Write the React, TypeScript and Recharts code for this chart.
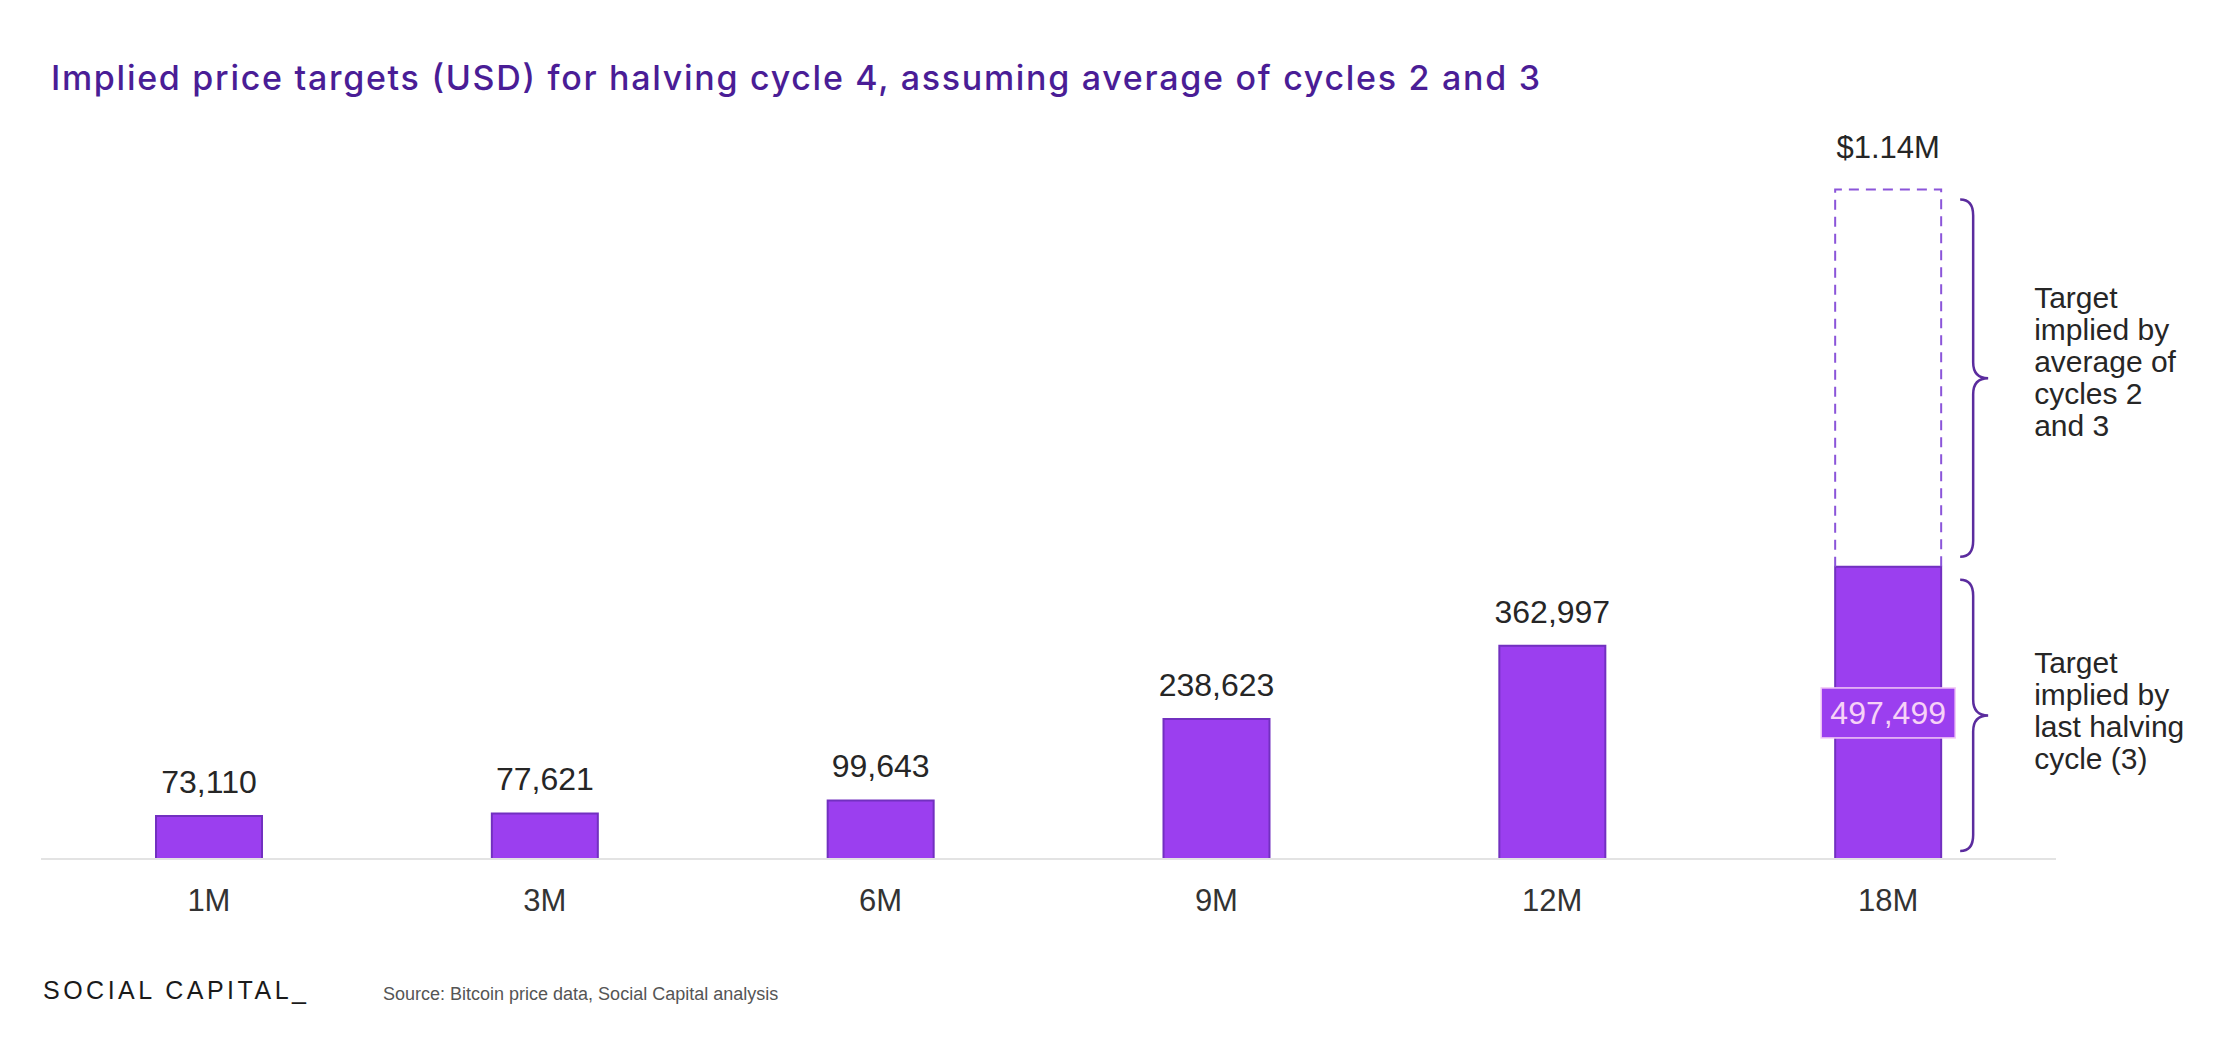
import React from "react";
import { BarChart, Bar, XAxis, YAxis, LabelList } from "recharts";

// Halving periods and implied targets (USD)
const periods = ["1M", "3M", "6M", "9M", "12M", "18M"];
const lastCycleTargets = [73110, 77621, 99643, 238623, 362997, 497499];
const averageCycleTargets = [null, null, null, null, null, 1140000];

const upperNote = ["Target", "implied by", "average of", "cycles 2", "and 3"];
const lowerNote = ["Target", "implied by", "last halving", "cycle (3)"];

const W = 2226;
const H = 1039;
const FONT = "'Liberation Sans', Arial, Helvetica, sans-serif";
const TITLE_FONT = "Inter, 'Liberation Sans', Arial, sans-serif";
const BAR_FILL = "#9B3FEF";
const BAR_STROKE = "#7230C0";
const BRACE = "#5B2C9E";
const INK = "#262626";
const NOTE_LINE = 32;

const data = periods.map((p, i) => ({
  period: p,
  lastCycle: lastCycleTargets[i],
  averageExtra: averageCycleTargets[i] ? averageCycleTargets[i] - lastCycleTargets[i] : 0,
  averageTotal: averageCycleTargets[i],
}));

const lastIndex = periods.length - 1;

const box = (p: any) => {
  const vb = p.viewBox || {};
  return {
    x: Number(p.x ?? vb.x),
    y: Number(p.y ?? vb.y),
    width: Number(p.width ?? vb.width),
    height: Number(p.height ?? vb.height),
  };
};

// curly brace pointing right
function Brace({ x, top, bottom }: { x: number; top: number; bottom: number }) {
  const mid = (top + bottom) / 2;
  const xs = x + 13;
  const xt = x + 28;
  const r = 16;
  const d = `M ${x} ${top} Q ${xs} ${top} ${xs} ${top + r} L ${xs} ${mid - r} Q ${xs} ${mid} ${xt} ${mid} Q ${xs} ${mid} ${xs} ${mid + r} L ${xs} ${bottom - r} Q ${xs} ${bottom} ${x} ${bottom}`;
  return <path d={d} fill="none" stroke={BRACE} strokeWidth={2.5} />;
}

function Note({ x, y, lines }: { x: number; y: number; lines: string[] }) {
  return (
    <g>
      {lines.map((l, i) => (
        <text key={i} x={x} y={y + i * NOTE_LINE} fill={INK} fontSize={30} fontFamily={FONT}>
          {l}
        </text>
      ))}
    </g>
  );
}

const lastCycleLabel = (props: any) => {
  const { x, y, width, height } = box(props);
  const label = Number(props.value).toLocaleString("en-US");
  if (props.index !== lastIndex) {
    return (
      <text x={x + width / 2} y={y - 23} textAnchor="middle" fill={INK} fontSize={32} fontFamily={FONT}>
        {label}
      </text>
    );
  }
  const cy = y + height / 2;
  return (
    <g>
      <rect x={x - 14} y={cy - 25} width={width + 28} height={50} fill={BAR_FILL} stroke="#F2C9F6" strokeWidth={1.5} />
      <text x={x + width / 2} y={cy + 11.5} textAnchor="middle" fill="#F7D2F7" fontSize={32} fontFamily={FONT}>
        {label}
      </text>
      <Brace x={x + width + 19} top={y + 13} bottom={y + height - 8} />
      <Note x={x + width + 93} y={cy - 40} lines={lowerNote} />
    </g>
  );
};

const averageLabel = (props: any) => {
  if (props.value == null) return null;
  const { x, y, width, height } = box(props);
  return (
    <g>
      <text x={x + width / 2} y={y - 32} textAnchor="middle" fill={INK} fontSize={31} fontFamily={FONT}>
        {"$" + (Number(props.value) / 1e6).toFixed(2) + "M"}
      </text>
      <Brace x={x + width + 19} top={y + 10} bottom={y + height - 10} />
      <Note x={x + width + 93} y={y + height / 2 - 70} lines={upperNote} />
    </g>
  );
};

const DashedTop = (props: any) => {
  const { x, y, width, height } = props;
  if (!height || height <= 0) return null;
  return (
    <path
      d={`M ${x} ${y + height} L ${x} ${y} L ${x + width} ${y} L ${x + width} ${y + height}`}
      fill="none"
      stroke="#8B55D9"
      strokeWidth={2}
      strokeDasharray="10 7"
    />
  );
};

export default function App() {
  return (
    <div style={{ position: "absolute", left: 0, top: 0, width: W, height: H, background: "#fff", overflow: "hidden" }}>
      <svg width={W} height={120} style={{ position: "absolute", left: 0, top: 0 }}>
        <text
          x={51}
          y={90}
          textLength={1489}
          lengthAdjust="spacing"
          fontFamily={TITLE_FONT}
          fontSize={34}
          fontWeight={500}
          fill="#4A1D96"
        >
          Implied price targets (USD) for halving cycle 4, assuming average of cycles 2 and 3
        </text>
      </svg>

      <BarChart
        width={W}
        height={H}
        data={data}
        margin={{ top: 125, right: 170, bottom: 120, left: 41 }}
        style={{ position: "absolute", left: 0, top: 0, fontFamily: FONT }}
      >
        <XAxis
          dataKey="period"
          height={60}
          axisLine={{ stroke: "#E3E3E3", strokeWidth: 2 }}
          tickLine={false}
          tickMargin={24}
          tick={{ fill: "#333", fontSize: 31, fontFamily: FONT }}
          interval={0}
        />
        <YAxis hide width={0} domain={[0, 1250000]} />
        <Bar
          dataKey="lastCycle"
          stackId="t"
          barSize={106}
          fill={BAR_FILL}
          stroke={BAR_STROKE}
          strokeWidth={2}
          isAnimationActive={false}
        >
          <LabelList dataKey="lastCycle" content={lastCycleLabel} />
        </Bar>
        <Bar dataKey="averageExtra" stackId="t" barSize={106} shape={DashedTop} isAnimationActive={false}>
          <LabelList dataKey="averageTotal" content={averageLabel} />
        </Bar>
      </BarChart>

      <div
        style={{
          position: "absolute",
          left: 43,
          top: 978,
          fontFamily: FONT,
          fontSize: 25,
          lineHeight: "25px",
          letterSpacing: 3.5,
          color: "#1A1A1A",
          whiteSpace: "nowrap",
        }}
      >
        SOCIAL CAPITAL_
      </div>
      <div
        style={{
          position: "absolute",
          left: 383,
          top: 985,
          fontFamily: FONT,
          fontSize: 18,
          lineHeight: "18px",
          color: "#555",
          whiteSpace: "nowrap",
        }}
      >
        Source: Bitcoin price data, Social Capital analysis
      </div>
    </div>
  );
}
